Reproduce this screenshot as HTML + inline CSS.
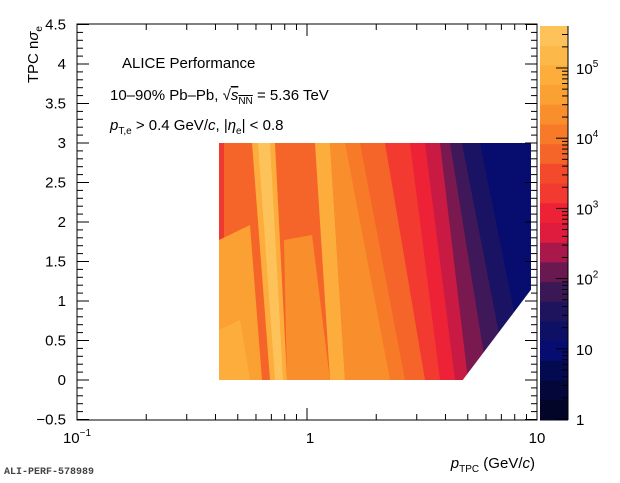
<!DOCTYPE html>
<html><head><meta charset="utf-8"><style>
html,body{margin:0;padding:0;background:#fff;width:620px;height:483px;overflow:hidden}
svg{display:block;font-family:"Liberation Sans",Arial,sans-serif}
</style></head><body>
<svg id="s" width="620" height="483" viewBox="0 0 620 483">
<defs><clipPath id="c"><rect x="219" y="143" width="312" height="237"/></clipPath></defs>
<g clip-path="url(#c)">
<rect x="219" y="143" width="312" height="237" fill="#f56428"/>
<polygon points="219,143 224,143 224,380 219,380" fill="#ee3a30"/>
<polygon points="219,240 250,225 262,380 219,380" fill="#fba032"/>
<polygon points="219,330 240,320 250,380 219,380" fill="#fcad3c"/>
<polygon points="252,143 275,143 287,380 270,380" fill="#fcad3c"/>
<polygon points="258,143 270,143 283,380 275,380" fill="#fdc35a"/>
<polygon points="284,240 312,235 330,380 287,380" fill="#f98e2c"/>
<polygon points="315,143 330,143 345,380 330,380" fill="#fcad3c"/>
<polygon points="330,143 531,143 531,380 345,380" fill="#f98e2c"/>
<polygon points="345,143 531,143 531,380 390,380" fill="#f77a28"/>
<polygon points="360,143 531,143 531,380 405,380" fill="#f56428"/>
<polygon points="385,143 531,143 531,380 425,380" fill="#f23a30"/>
<polygon points="410,143 531,143 531,380 440,380" fill="#ee2236"/>
<polygon points="425,143 531,143 531,380 455,380" fill="#c81a42"/>
<polygon points="440,143 531,143 531,380 468,380" fill="#7a1850"/>
<polygon points="450,143 531,143 531,380 488,380" fill="#3e1858"/>
<polygon points="462,143 531,143 531,380 508,380" fill="#1a1262"/>
<polygon points="480,143 531,143 531,380 528,380" fill="#070d6e"/>
<polygon points="462,381 533,287 533,381" fill="#fff"/>
</g>
<g id="g"></g>
<rect x="77" y="24" width="460" height="396" fill="none" stroke="#000" stroke-width="1"/>
<g font-size="15" fill="#000">
<text x="122" y="68">ALICE Performance</text>
<text x="110" y="100">10–90% Pb–Pb, √<tspan text-decoration="overline"><tspan font-style="italic">s</tspan><tspan font-size="10" dy="4">NN</tspan></tspan><tspan dy="-4"> = 5.36 TeV</tspan></text>
<text x="110" y="130"><tspan font-style="italic">p</tspan><tspan font-size="10" dy="4">T,e</tspan><tspan dy="-4"> &gt; 0.4 GeV/</tspan><tspan font-style="italic">c</tspan>, |<tspan font-style="italic">η</tspan><tspan font-size="10" dy="4">e</tspan><tspan dy="-4">| &lt; 0.8</tspan></text>
<text x="535" y="468" text-anchor="end"><tspan font-style="italic">p</tspan><tspan font-size="10" dy="4">TPC</tspan><tspan dy="-4"> (GeV/</tspan><tspan font-style="italic">c</tspan>)</text>
<text transform="translate(38,26) rotate(-90)" text-anchor="end">TPC n<tspan font-style="italic">σ</tspan><tspan font-size="10" dy="4">e</tspan></text>
<text x="77" y="443" text-anchor="middle">10<tspan font-size="10" dy="-7">−1</tspan></text>
<text x="310" y="443" text-anchor="middle">1</text>
<text x="537" y="443" text-anchor="middle">10</text>
</g>
<text x="4" y="474" font-family="Liberation Mono,monospace" font-size="10" font-weight="bold" fill="#444">ALI-PERF-578989</text>
</svg>
<script>
var g=document.getElementById('g'),h='';
var cols=['#fdc35a','#fdb84a','#fcad3c','#fba032','#f98e2c','#f77a28','#f56428','#f44a2c','#f23a30','#ee2236','#e01c3e','#a8184a','#6a1850','#3a1855','#1e145e','#0e1066','#060c70','#040a50','#03073a','#020428'];
for(var i=0;i<20;i++){h+='<rect x="540" y="'+(26+i*19.7)+'" width="28" height="20.2" fill="'+cols[i]+'"/>';}
function Y(v){return 380-v*79;}
for(var v=-0.5;v<=4.51;v+=0.1){var y=Y(v),maj=Math.abs(v*2-Math.round(v*2))<0.01,l=maj?12:6;
h+='<line x1="77" x2="'+(77+l)+'" y1="'+y+'" y2="'+y+'" stroke="#000"/><line x1="537" x2="'+(537-l)+'" y1="'+y+'" y2="'+y+'" stroke="#000"/>';
if(maj){var t=Math.round(v*10)/10;h+='<text x="66" y="'+(y+5)+'" text-anchor="end" font-size="15">'+(t<0?'−0.5':t)+'</text>';}}
function X(p){return 77+(Math.log10(p)+1)*230;}
[0.1,1,10].forEach(function(d){for(var k=1;k<10;k++){var p=d*k;if(p>10.01)return;var x=X(p),l=k==1?12:6;
h+='<line x1="'+x+'" x2="'+x+'" y1="420" y2="'+(420-l)+'" stroke="#000"/><line x1="'+x+'" x2="'+x+'" y1="24" y2="'+(24+l)+'" stroke="#000"/>';}});
var lab=['1','10','10<tspan font-size="10" dy="-7">2</tspan>','10<tspan font-size="10" dy="-7">3</tspan>','10<tspan font-size="10" dy="-7">4</tspan>','10<tspan font-size="10" dy="-7">5</tspan>'];
for(var d=0;d<6;d++){for(var k=1;k<10;k++){var y=419-(d+Math.log10(k))*70.2;if(y<26)break;var l=k==1?12:6;
h+='<line x1="568" x2="'+(568-l)+'" y1="'+y+'" y2="'+y+'" stroke="#000"/>';}
h+='<text x="576" y="'+(419-d*70.2+6)+'" font-size="15">'+lab[d]+'</text>';}
h+='<line x1="568" x2="568" y1="26" y2="420" stroke="#000"/>';
g.innerHTML=h;
</script>
</body></html>
